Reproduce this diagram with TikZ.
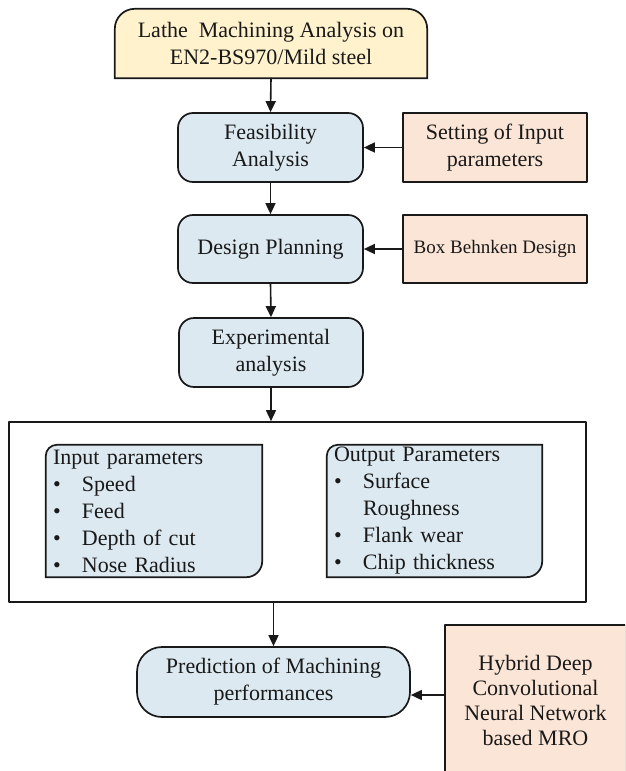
\documentclass[tikz,border=0pt]{standalone}
\usepackage{fontspec}
\setmainfont{Liberation Serif}
\usepackage{tikz}
\usetikzlibrary{arrows.meta, backgrounds, calc, positioning}
\definecolor{boxblue}{RGB}{220,233,241}
\definecolor{boxpeach}{RGB}{251,229,214}
\definecolor{boxyellow}{RGB}{255,242,204}
\definecolor{inkgray}{RGB}{25,25,25}

\begin{document}
\begin{tikzpicture}[x=1pt,y=-1pt,line cap=round,line join=round,>={Triangle[length=11pt,width=10pt]}]
\tikzstyle{every node}=[font={\fontsize{22}{27}\selectfont}, text=inkgray, inner sep=0pt, align=center]
\tikzstyle{stepbox}=[draw=inkgray, line width=1.7pt, rounded corners=15pt, fill=boxblue, minimum width=185pt, minimum height=69pt]
\tikzstyle{sidebox}=[draw=inkgray, line width=1.7pt, fill=boxpeach, minimum width=184pt, minimum height=69pt]
\tikzstyle{listbox}=[text width=202pt, inner xsep=7pt, minimum height=132pt, align=left]
\tikzstyle{arr}=[->, draw=inkgray, line width=1.6pt]
\newcommand{\bul}{\makebox[29pt][l]{\textbullet}}

\useasboundingbox (0,0) rectangle (625,771);
\begin{scope}[on background layer]
\fill[white] (0,0) rectangle (625,771);
\end{scope}
\clip (0,0) rectangle (625,771);

% main flow
\node[minimum width=312pt, minimum height=69pt] (lathe) at (271,43.5) {Lathe\ \ Machining Analysis on\\EN2-BS970/Mild steel};
\node[stepbox] (feas) at (270.5,147.5) {Feasibility\\Analysis};
\node[sidebox] (setting) at (495,147.5) {Setting of Input\\parameters};
\node[stepbox, minimum height=68pt] (design) at (270.5,249) {Design Planning};
\node[sidebox, minimum height=68pt, font={\fontsize{19}{24}\selectfont}] (bbd) at (495,249) {Box Behnken Design};
\node[stepbox, minimum width=184pt] (exper) at (271,352.5) {Experimental\\analysis};

% parameters
\node[draw=inkgray, line width=1.7pt, minimum width=577pt, minimum height=180pt] (params) at (297.5,512) {};
\node[listbox] (inpar) at (154,511) {Input parameters\\\bul Speed\\\bul Feed\\\bul Depth of cut\\\bul Nose Radius};
\node[listbox, text width=201pt] (outpar) at (434.5,511) {Output Parameters\\\bul Surface\\\hspace*{29pt}Roughness\\\bul Flank wear\\\bul Chip thickness};

% prediction
\node[stepbox, rounded corners=25pt, minimum width=273pt, minimum height=70pt] (pred) at (273.5,682) {Prediction of Machining\\performances};
\node[sidebox, minimum width=181pt, minimum height=151pt, font={\fontsize{22}{25}\selectfont}] (hybrid) at (535.5,700.5) {Hybrid Deep\\Convolutional\\Neural Network\\based MRO};
\coordinate (hin) at (445,695);

\begin{scope}[on background layer]
\filldraw[fill=boxyellow, draw=inkgray, line width=1.7pt] (lathe.south west) [rounded corners=20pt] -- (lathe.north west) -- (lathe.north east) [sharp corners] -- (lathe.south east) -- cycle;
\foreach \b in {inpar,outpar}
\filldraw[fill=boxblue, draw=inkgray, line width=1.7pt] (\b.south west) [rounded corners=11pt] -- (\b.north west) [sharp corners] -- (\b.north east) [rounded corners=16pt] -- (\b.south east) [sharp corners] -- cycle;
\end{scope}

\draw[arr] (lathe.south) -- (feas.north);
\draw[arr] (feas.south) -- (design.north);
\draw[arr] (design.south) -- (exper.north);
\draw[arr] (exper.south) -- (exper.south |- params.north);
\draw[arr] (pred.north |- params.south) -- (pred.north);
\draw[arr] (setting.west) -- (feas.east);
\draw[arr] (bbd.west) -- (design.east);
\draw[arr] (hin) -- (pred.east |- hin);
\end{tikzpicture}
\end{document}
